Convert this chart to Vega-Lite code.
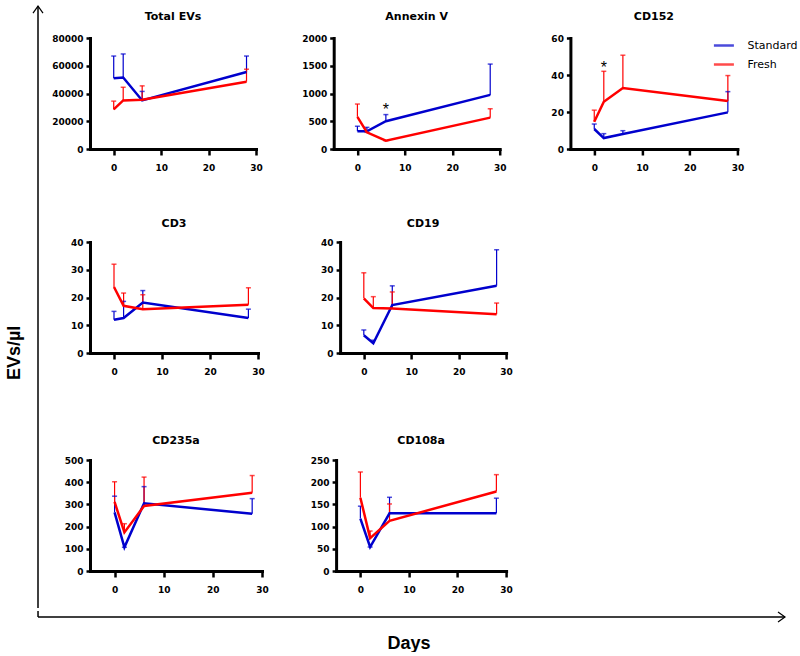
{
  "$schema": "https://vega.github.io/schema/vega-lite/v6.json",
  "padding": {"left": 5, "top": 3, "right": 0, "bottom": 0},
  "title": {"text": "EVs/µl", "orient": "left", "anchor": "middle", "font": "Liberation Sans", "fontSize": 18, "fontWeight": "bold", "color": "black", "offset": 7, "dx": -25},
  "datasets": {
    "ev": [
      {"panel": "Total EVs", "group": "Standard", "day": 0, "mean": 51000, "upper": 67000},
      {"panel": "Total EVs", "group": "Standard", "day": 2, "mean": 51500, "upper": 68500},
      {"panel": "Total EVs", "group": "Standard", "day": 6, "mean": 35000, "upper": 41500},
      {"panel": "Total EVs", "group": "Standard", "day": 28, "mean": 55500, "upper": 67000},
      {"panel": "Annexin V", "group": "Standard", "day": 0, "mean": 320, "upper": 410},
      {"panel": "Annexin V", "group": "Standard", "day": 2, "mean": 320, "upper": 390},
      {"panel": "Annexin V", "group": "Standard", "day": 6, "mean": 500, "upper": 620},
      {"panel": "Annexin V", "group": "Standard", "day": 28, "mean": 975, "upper": 1530},
      {"panel": "CD152", "group": "Standard", "day": 0, "mean": 10.8, "upper": 13.5},
      {"panel": "CD152", "group": "Standard", "day": 2, "mean": 5.9, "upper": 8.3},
      {"panel": "CD152", "group": "Standard", "day": 6, "mean": 8.1, "upper": 9.9},
      {"panel": "CD152", "group": "Standard", "day": 28, "mean": 19.8, "upper": 31},
      {"panel": "CD3", "group": "Standard", "day": 0, "mean": 12.0, "upper": 15.0},
      {"panel": "CD3", "group": "Standard", "day": 2, "mean": 12.6, "upper": 18.6},
      {"panel": "CD3", "group": "Standard", "day": 6, "mean": 18.2, "upper": 22.5},
      {"panel": "CD3", "group": "Standard", "day": 28, "mean": 12.6, "upper": 15.8},
      {"panel": "CD19", "group": "Standard", "day": 0, "mean": 6.4, "upper": 8.3},
      {"panel": "CD19", "group": "Standard", "day": 2, "mean": 3.5, "upper": 4.6},
      {"panel": "CD19", "group": "Standard", "day": 6, "mean": 17.3, "upper": 24.2},
      {"panel": "CD19", "group": "Standard", "day": 28, "mean": 24.2, "upper": 37.2},
      {"panel": "CD235a", "group": "Standard", "day": 0, "mean": 264, "upper": 337},
      {"panel": "CD235a", "group": "Standard", "day": 2, "mean": 107, "upper": 107},
      {"panel": "CD235a", "group": "Standard", "day": 6, "mean": 305, "upper": 380},
      {"panel": "CD235a", "group": "Standard", "day": 28, "mean": 258, "upper": 326},
      {"panel": "CD108a", "group": "Standard", "day": 0, "mean": 118, "upper": 146},
      {"panel": "CD108a", "group": "Standard", "day": 2, "mean": 54, "upper": 54},
      {"panel": "CD108a", "group": "Standard", "day": 6, "mean": 130, "upper": 166},
      {"panel": "CD108a", "group": "Standard", "day": 28, "mean": 130, "upper": 164},
      {"panel": "Total EVs", "group": "Fresh", "day": 0, "mean": 28500, "upper": 34500},
      {"panel": "Total EVs", "group": "Fresh", "day": 2, "mean": 35000, "upper": 44500},
      {"panel": "Total EVs", "group": "Fresh", "day": 6, "mean": 35500, "upper": 45500},
      {"panel": "Total EVs", "group": "Fresh", "day": 28, "mean": 48500, "upper": 57500},
      {"panel": "Annexin V", "group": "Fresh", "day": 0, "mean": 580, "upper": 810},
      {"panel": "Annexin V", "group": "Fresh", "day": 2, "mean": 300, "upper": 300},
      {"panel": "Annexin V", "group": "Fresh", "day": 6, "mean": 150, "upper": 150},
      {"panel": "Annexin V", "group": "Fresh", "day": 28, "mean": 565, "upper": 725},
      {"panel": "CD152", "group": "Fresh", "day": 0, "mean": 14.7, "upper": 21},
      {"panel": "CD152", "group": "Fresh", "day": 2, "mean": 25.5, "upper": 42},
      {"panel": "CD152", "group": "Fresh", "day": 6, "mean": 33, "upper": 50.7},
      {"panel": "CD152", "group": "Fresh", "day": 28, "mean": 25.9, "upper": 39.7},
      {"panel": "CD3", "group": "Fresh", "day": 0, "mean": 23.8, "upper": 32},
      {"panel": "CD3", "group": "Fresh", "day": 2, "mean": 17.0, "upper": 21.6},
      {"panel": "CD3", "group": "Fresh", "day": 6, "mean": 15.8, "upper": 21.0},
      {"panel": "CD3", "group": "Fresh", "day": 28, "mean": 17.4, "upper": 23.5},
      {"panel": "CD19", "group": "Fresh", "day": 0, "mean": 19.7, "upper": 28.9},
      {"panel": "CD19", "group": "Fresh", "day": 2, "mean": 16.2, "upper": 20.3},
      {"panel": "CD19", "group": "Fresh", "day": 6, "mean": 16.0, "upper": 22.0},
      {"panel": "CD19", "group": "Fresh", "day": 28, "mean": 14.0, "upper": 18.0},
      {"panel": "CD235a", "group": "Fresh", "day": 0, "mean": 311, "upper": 402},
      {"panel": "CD235a", "group": "Fresh", "day": 2, "mean": 174, "upper": 213},
      {"panel": "CD235a", "group": "Fresh", "day": 6, "mean": 293, "upper": 423},
      {"panel": "CD235a", "group": "Fresh", "day": 28, "mean": 352, "upper": 430},
      {"panel": "CD108a", "group": "Fresh", "day": 0, "mean": 165, "upper": 223},
      {"panel": "CD108a", "group": "Fresh", "day": 2, "mean": 74, "upper": 90},
      {"panel": "CD108a", "group": "Fresh", "day": 6, "mean": 113, "upper": 151},
      {"panel": "CD108a", "group": "Fresh", "day": 28, "mean": 179, "upper": 217}
    ]
  },
  "spacing": 0,
  "resolve": {"scale": {"color": "independent"}, "legend": {"color": "independent"}},
  "vconcat": [
    {
      "spacing": 4,
      "resolve": {"scale": {"color": "independent"}, "legend": {"color": "independent"}},
      "hconcat": [
        {
          "width": 12,
          "height": 570,
          "data": {"values": [{"x": 0.5, "y0": 0, "y1": 1.056}]},
          "layer": [
            {
              "mark": {"type": "rule", "color": "black", "strokeWidth": 1.5},
              "encoding": {
                "x": {"field": "x", "type": "quantitative", "scale": {"domain": [0, 1]}, "axis": null},
                "y": {"field": "y0", "type": "quantitative", "scale": {"domain": [0, 1], "nice": false}, "axis": null},
                "y2": {"field": "y1"}
              }
            },
            {
              "mark": {"type": "point", "shape": "M-1,1.4L0,0L1,1.4", "filled": false, "color": "black", "strokeWidth": 1.2, "size": 100, "opacity": 1},
              "encoding": {
                "x": {"field": "x", "type": "quantitative", "axis": null},
                "y": {"field": "y1", "type": "quantitative", "axis": null}
              }
            }
          ]
        },
        {
          "spacing": 46,
          "resolve": {"scale": {"color": "independent"}, "legend": {"color": "independent"}},
          "vconcat": [
            {
              "spacing": 37.7,
              "resolve": {"scale": {"color": "independent"}, "legend": {"color": "independent"}},
              "hconcat": [
                {
                  "width": 166, "height": 111,
                  "title": {"text": "Total EVs", "offset": 12},
                  "data": {"name": "ev"},
                  "encoding": {"x": {"field": "day", "type": "quantitative", "title": null, "scale": {"domain": [-5, 30], "nice": false, "zero": false}, "axis": {"values": [0, 10, 20, 30]}}},
                  "layer": [
                    {"transform": [{"filter": "datum.panel === 'Total EVs'"}], "mark": {"type": "rule", "strokeWidth": 1.2}, "encoding": {"y": {"field": "mean", "type": "quantitative", "title": null, "scale": {"domain": [0, 80000], "nice": false}, "axis": {"values": [0, 20000, 40000, 60000, 80000], "format": "d", "minExtent": 40, "labelOverlap": false, "tickCount": 5}}, "y2": {"field": "upper"}, "color": {"field": "group", "type": "nominal", "scale": {"domain": ["Standard", "Fresh"], "range": ["#0000cd", "#ff0000"]}, "legend": null}}},
                    {"transform": [{"filter": "datum.panel === 'Total EVs'"}], "mark": {"type": "tick", "orient": "horizontal", "size": 5, "thickness": 1.5}, "encoding": {"y": {"field": "upper", "type": "quantitative", "title": null, "axis": {"values": [0, 20000, 40000, 60000, 80000], "format": "d", "minExtent": 40, "labelOverlap": false, "tickCount": 5}}, "color": {"field": "group", "type": "nominal", "scale": {"domain": ["Standard", "Fresh"], "range": ["#0000cd", "#ff0000"]}, "legend": null}}},
                    {"transform": [{"filter": "datum.panel === 'Total EVs'"}], "mark": {"type": "line", "strokeWidth": 2.5}, "encoding": {"y": {"field": "mean", "type": "quantitative", "title": null, "axis": {"values": [0, 20000, 40000, 60000, 80000], "format": "d", "minExtent": 40, "labelOverlap": false, "tickCount": 5}}, "color": {"field": "group", "type": "nominal", "scale": {"domain": ["Standard", "Fresh"], "range": ["#0000cd", "#ff0000"]}, "legend": null}}}
                  ]
                },
                {
                  "width": 166, "height": 111,
                  "title": {"text": "Annexin V", "offset": 12},
                  "data": {"name": "ev"},
                  "encoding": {"x": {"field": "day", "type": "quantitative", "title": null, "scale": {"domain": [-5, 30], "nice": false, "zero": false}, "axis": {"values": [0, 10, 20, 30]}}},
                  "layer": [
                    {"transform": [{"filter": "datum.panel === 'Annexin V'"}], "mark": {"type": "rule", "strokeWidth": 1.2}, "encoding": {"y": {"field": "mean", "type": "quantitative", "title": null, "scale": {"domain": [0, 2000], "nice": false}, "axis": {"values": [0, 500, 1000, 1500, 2000], "format": "d", "minExtent": 33, "labelOverlap": false, "tickCount": 5}}, "y2": {"field": "upper"}, "color": {"field": "group", "type": "nominal", "scale": {"domain": ["Standard", "Fresh"], "range": ["#0000cd", "#ff0000"]}, "legend": null}}},
                    {"transform": [{"filter": "datum.panel === 'Annexin V'"}], "mark": {"type": "tick", "orient": "horizontal", "size": 5, "thickness": 1.5}, "encoding": {"y": {"field": "upper", "type": "quantitative", "title": null, "axis": {"values": [0, 500, 1000, 1500, 2000], "format": "d", "minExtent": 33, "labelOverlap": false, "tickCount": 5}}, "color": {"field": "group", "type": "nominal", "scale": {"domain": ["Standard", "Fresh"], "range": ["#0000cd", "#ff0000"]}, "legend": null}}},
                    {"transform": [{"filter": "datum.panel === 'Annexin V'"}], "mark": {"type": "line", "strokeWidth": 2.5}, "encoding": {"y": {"field": "mean", "type": "quantitative", "title": null, "axis": {"values": [0, 500, 1000, 1500, 2000], "format": "d", "minExtent": 33, "labelOverlap": false, "tickCount": 5}}, "color": {"field": "group", "type": "nominal", "scale": {"domain": ["Standard", "Fresh"], "range": ["#0000cd", "#ff0000"]}, "legend": null}}},
                    {"data": {"values": [{"day": 6, "y": 780}]}, "mark": {"type": "text", "text": "*", "fontSize": 16, "font": "Liberation Sans", "color": "black", "dy": 4}, "encoding": {"y": {"field": "y", "type": "quantitative", "title": null, "axis": {"values": [0, 500, 1000, 1500, 2000], "format": "d", "minExtent": 33, "labelOverlap": false, "tickCount": 5}}}}
                  ]
                },
                {
                  "width": 167, "height": 111,
                  "title": {"text": "CD152", "offset": 12},
                  "data": {"name": "ev"},
                  "encoding": {"x": {"field": "day", "type": "quantitative", "title": null, "scale": {"domain": [-5, 30], "nice": false, "zero": false}, "axis": {"values": [0, 10, 20, 30]}}},
                  "layer": [
                    {"transform": [{"filter": "datum.panel === 'CD152'"}], "mark": {"type": "rule", "strokeWidth": 1.2}, "encoding": {"y": {"field": "mean", "type": "quantitative", "title": null, "scale": {"domain": [0, 60], "nice": false}, "axis": {"values": [0, 20, 40, 60], "format": "d", "minExtent": 26, "labelOverlap": false, "tickCount": 4}}, "y2": {"field": "upper"}, "color": {"field": "group", "type": "nominal", "scale": {"domain": ["Standard", "Fresh"], "range": ["#0000cd", "#ff0000"]}, "legend": {"orient": "none", "legendX": 142, "legendY": -4, "title": null, "symbolType": "stroke", "symbolSize": 400, "symbolStrokeWidth": 2.5, "labelFont": "DejaVu Sans", "labelFontSize": 11, "labelColor": "black", "labelOffset": 12}}}},
                    {"transform": [{"filter": "datum.panel === 'CD152'"}], "mark": {"type": "tick", "orient": "horizontal", "size": 5, "thickness": 1.5}, "encoding": {"y": {"field": "upper", "type": "quantitative", "title": null, "axis": {"values": [0, 20, 40, 60], "format": "d", "minExtent": 26, "labelOverlap": false, "tickCount": 4}}, "color": {"field": "group", "type": "nominal", "scale": {"domain": ["Standard", "Fresh"], "range": ["#0000cd", "#ff0000"]}, "legend": {"orient": "none", "legendX": 142, "legendY": -4, "title": null, "symbolType": "stroke", "symbolSize": 400, "symbolStrokeWidth": 2.5, "labelFont": "DejaVu Sans", "labelFontSize": 11, "labelColor": "black", "labelOffset": 12}}}},
                    {"transform": [{"filter": "datum.panel === 'CD152'"}], "mark": {"type": "line", "strokeWidth": 2.5}, "encoding": {"y": {"field": "mean", "type": "quantitative", "title": null, "axis": {"values": [0, 20, 40, 60], "format": "d", "minExtent": 26, "labelOverlap": false, "tickCount": 4}}, "color": {"field": "group", "type": "nominal", "scale": {"domain": ["Standard", "Fresh"], "range": ["#0000cd", "#ff0000"]}, "legend": {"orient": "none", "legendX": 142, "legendY": -4, "title": null, "symbolType": "stroke", "symbolSize": 400, "symbolStrokeWidth": 2.5, "labelFont": "DejaVu Sans", "labelFontSize": 11, "labelColor": "black", "labelOffset": 12}}}},
                    {"data": {"values": [{"day": 2, "y": 46}]}, "mark": {"type": "text", "text": "*", "fontSize": 16, "font": "Liberation Sans", "color": "black", "dy": 4}, "encoding": {"y": {"field": "y", "type": "quantitative", "title": null, "axis": {"values": [0, 20, 40, 60], "format": "d", "minExtent": 26, "labelOverlap": false, "tickCount": 4}}}}
                  ]
                }
              ]
            },
            {
              "spacing": 41.1,
              "resolve": {"scale": {"color": "independent"}, "legend": {"color": "independent"}},
              "hconcat": [
                {
                  "width": 168, "height": 111,
                  "title": {"text": "CD3", "offset": 9},
                  "data": {"name": "ev"},
                  "encoding": {"x": {"field": "day", "type": "quantitative", "title": null, "scale": {"domain": [-5, 30], "nice": false, "zero": false}, "axis": {"values": [0, 10, 20, 30]}}},
                  "layer": [
                    {"transform": [{"filter": "datum.panel === 'CD3'"}], "mark": {"type": "rule", "strokeWidth": 1.2}, "encoding": {"y": {"field": "mean", "type": "quantitative", "title": null, "scale": {"domain": [0, 40], "nice": false}, "axis": {"values": [0, 10, 20, 30, 40], "format": "d", "minExtent": 40, "labelOverlap": false, "tickCount": 5}}, "y2": {"field": "upper"}, "color": {"field": "group", "type": "nominal", "scale": {"domain": ["Standard", "Fresh"], "range": ["#0000cd", "#ff0000"]}, "legend": null}}},
                    {"transform": [{"filter": "datum.panel === 'CD3'"}], "mark": {"type": "tick", "orient": "horizontal", "size": 5, "thickness": 1.5}, "encoding": {"y": {"field": "upper", "type": "quantitative", "title": null, "axis": {"values": [0, 10, 20, 30, 40], "format": "d", "minExtent": 40, "labelOverlap": false, "tickCount": 5}}, "color": {"field": "group", "type": "nominal", "scale": {"domain": ["Standard", "Fresh"], "range": ["#0000cd", "#ff0000"]}, "legend": null}}},
                    {"transform": [{"filter": "datum.panel === 'CD3'"}], "mark": {"type": "line", "strokeWidth": 2.5}, "encoding": {"y": {"field": "mean", "type": "quantitative", "title": null, "axis": {"values": [0, 10, 20, 30, 40], "format": "d", "minExtent": 40, "labelOverlap": false, "tickCount": 5}}, "color": {"field": "group", "type": "nominal", "scale": {"domain": ["Standard", "Fresh"], "range": ["#0000cd", "#ff0000"]}, "legend": null}}}
                  ]
                },
                {
                  "width": 166, "height": 111,
                  "title": {"text": "CD19", "offset": 9},
                  "data": {"name": "ev"},
                  "encoding": {"x": {"field": "day", "type": "quantitative", "title": null, "scale": {"domain": [-5, 30], "nice": false, "zero": false}, "axis": {"values": [0, 10, 20, 30]}}},
                  "layer": [
                    {"transform": [{"filter": "datum.panel === 'CD19'"}], "mark": {"type": "rule", "strokeWidth": 1.2}, "encoding": {"y": {"field": "mean", "type": "quantitative", "title": null, "scale": {"domain": [0, 40], "nice": false}, "axis": {"values": [0, 10, 20, 30, 40], "format": "d", "minExtent": 33.6, "labelOverlap": false, "tickCount": 5}}, "y2": {"field": "upper"}, "color": {"field": "group", "type": "nominal", "scale": {"domain": ["Standard", "Fresh"], "range": ["#0000cd", "#ff0000"]}, "legend": null}}},
                    {"transform": [{"filter": "datum.panel === 'CD19'"}], "mark": {"type": "tick", "orient": "horizontal", "size": 5, "thickness": 1.5}, "encoding": {"y": {"field": "upper", "type": "quantitative", "title": null, "axis": {"values": [0, 10, 20, 30, 40], "format": "d", "minExtent": 33.6, "labelOverlap": false, "tickCount": 5}}, "color": {"field": "group", "type": "nominal", "scale": {"domain": ["Standard", "Fresh"], "range": ["#0000cd", "#ff0000"]}, "legend": null}}},
                    {"transform": [{"filter": "datum.panel === 'CD19'"}], "mark": {"type": "line", "strokeWidth": 2.5}, "encoding": {"y": {"field": "mean", "type": "quantitative", "title": null, "axis": {"values": [0, 10, 20, 30, 40], "format": "d", "minExtent": 33.6, "labelOverlap": false, "tickCount": 5}}, "color": {"field": "group", "type": "nominal", "scale": {"domain": ["Standard", "Fresh"], "range": ["#0000cd", "#ff0000"]}, "legend": null}}}
                  ]
                }
              ]
            },
            {
              "spacing": 39.1,
              "title": {"text": " ", "fontSize": 1, "offset": 12},
              "resolve": {"scale": {"color": "independent"}, "legend": {"color": "independent"}},
              "hconcat": [
                {
                  "width": 172, "height": 111,
                  "title": {"text": "CD235a", "offset": 10},
                  "data": {"name": "ev"},
                  "encoding": {"x": {"field": "day", "type": "quantitative", "title": null, "scale": {"domain": [-5, 30], "nice": false, "zero": false}, "axis": {"values": [0, 10, 20, 30]}}},
                  "layer": [
                    {"transform": [{"filter": "datum.panel === 'CD235a'"}], "mark": {"type": "rule", "strokeWidth": 1.2}, "encoding": {"y": {"field": "mean", "type": "quantitative", "title": null, "scale": {"domain": [0, 500], "nice": false}, "axis": {"values": [0, 100, 200, 300, 400, 500], "format": "d", "minExtent": 40, "labelOverlap": false, "tickCount": 6}}, "y2": {"field": "upper"}, "color": {"field": "group", "type": "nominal", "scale": {"domain": ["Standard", "Fresh"], "range": ["#0000cd", "#ff0000"]}, "legend": null}}},
                    {"transform": [{"filter": "datum.panel === 'CD235a'"}], "mark": {"type": "tick", "orient": "horizontal", "size": 5, "thickness": 1.5}, "encoding": {"y": {"field": "upper", "type": "quantitative", "title": null, "axis": {"values": [0, 100, 200, 300, 400, 500], "format": "d", "minExtent": 40, "labelOverlap": false, "tickCount": 6}}, "color": {"field": "group", "type": "nominal", "scale": {"domain": ["Standard", "Fresh"], "range": ["#0000cd", "#ff0000"]}, "legend": null}}},
                    {"transform": [{"filter": "datum.panel === 'CD235a'"}], "mark": {"type": "line", "strokeWidth": 2.5}, "encoding": {"y": {"field": "mean", "type": "quantitative", "title": null, "axis": {"values": [0, 100, 200, 300, 400, 500], "format": "d", "minExtent": 40, "labelOverlap": false, "tickCount": 6}}, "color": {"field": "group", "type": "nominal", "scale": {"domain": ["Standard", "Fresh"], "range": ["#0000cd", "#ff0000"]}, "legend": null}}}
                  ]
                },
                {
                  "width": 170, "height": 111,
                  "title": {"text": "CD108a", "offset": 10},
                  "data": {"name": "ev"},
                  "encoding": {"x": {"field": "day", "type": "quantitative", "title": null, "scale": {"domain": [-5, 30], "nice": false, "zero": false}, "axis": {"values": [0, 10, 20, 30]}}},
                  "layer": [
                    {"transform": [{"filter": "datum.panel === 'CD108a'"}], "mark": {"type": "rule", "strokeWidth": 1.2}, "encoding": {"y": {"field": "mean", "type": "quantitative", "title": null, "scale": {"domain": [0, 250], "nice": false}, "axis": {"values": [0, 50, 100, 150, 200, 250], "format": "d", "minExtent": 27.6, "labelOverlap": false, "tickCount": 6}}, "y2": {"field": "upper"}, "color": {"field": "group", "type": "nominal", "scale": {"domain": ["Standard", "Fresh"], "range": ["#0000cd", "#ff0000"]}, "legend": null}}},
                    {"transform": [{"filter": "datum.panel === 'CD108a'"}], "mark": {"type": "tick", "orient": "horizontal", "size": 5, "thickness": 1.5}, "encoding": {"y": {"field": "upper", "type": "quantitative", "title": null, "axis": {"values": [0, 50, 100, 150, 200, 250], "format": "d", "minExtent": 27.6, "labelOverlap": false, "tickCount": 6}}, "color": {"field": "group", "type": "nominal", "scale": {"domain": ["Standard", "Fresh"], "range": ["#0000cd", "#ff0000"]}, "legend": null}}},
                    {"transform": [{"filter": "datum.panel === 'CD108a'"}], "mark": {"type": "line", "strokeWidth": 2.5}, "encoding": {"y": {"field": "mean", "type": "quantitative", "title": null, "axis": {"values": [0, 50, 100, 150, 200, 250], "format": "d", "minExtent": 27.6, "labelOverlap": false, "tickCount": 6}}, "color": {"field": "group", "type": "nominal", "scale": {"domain": ["Standard", "Fresh"], "range": ["#0000cd", "#ff0000"]}, "legend": null}}}
                  ]
                }
              ]
            }
          ]
        }
      ]
    },
    {
      "width": 753,
      "height": 6,
      "data": {"values": [{"x0": 0.8, "x1": 100, "y0": 0, "y1": 1}]},
      "layer": [
        {
          "mark": {"type": "rule", "color": "black", "strokeWidth": 1.5},
          "encoding": {
            "x": {"field": "x0", "type": "quantitative", "title": "Days", "scale": {"domain": [0, 100], "nice": false}, "axis": {"domain": false, "ticks": false, "labels": false, "minExtent": 0, "titleFont": "Liberation Sans", "titleFontSize": 18, "titleFontWeight": "bold", "titleColor": "black", "titlePadding": 17}},
            "x2": {"field": "x1"},
            "y": {"field": "y0", "type": "quantitative", "scale": {"domain": [0, 1], "nice": false}, "axis": null}
          }
        },
        {
          "mark": {"type": "rule", "color": "black", "strokeWidth": 1.5},
          "encoding": {
            "x": {"field": "x0", "type": "quantitative", "title": "Days", "axis": {"domain": false, "ticks": false, "labels": false, "minExtent": 0, "titleFont": "Liberation Sans", "titleFontSize": 18, "titleFontWeight": "bold", "titleColor": "black", "titlePadding": 17}},
            "y": {"field": "y0", "type": "quantitative", "axis": null},
            "y2": {"field": "y1"}
          }
        },
        {
          "mark": {"type": "point", "shape": "M-1.4,-1L0,0L-1.4,1", "filled": false, "color": "black", "strokeWidth": 1.2, "size": 100, "opacity": 1},
          "encoding": {
            "x": {"field": "x1", "type": "quantitative", "title": "Days", "axis": {"domain": false, "ticks": false, "labels": false, "minExtent": 0, "titleFont": "Liberation Sans", "titleFontSize": 18, "titleFontWeight": "bold", "titleColor": "black", "titlePadding": 17}},
            "y": {"field": "y0", "type": "quantitative", "axis": null}
          }
        }
      ]
    }
  ],
  "config": {
    "view": {"stroke": null},
    "font": "DejaVu Sans",
    "title": {"font": "DejaVu Sans", "fontSize": 11, "fontWeight": "bold", "color": "black", "anchor": "middle"},
    "axis": {"domainColor": "black", "domainWidth": 3, "domainCap": "square", "tickColor": "black", "tickWidth": 2.5, "labelFont": "DejaVu Sans", "labelFontWeight": "bold", "labelFontSize": 9, "labelColor": "black", "labelOverlap": false, "grid": false},
    "axisX": {"tickSize": 6, "labelPadding": 8, "labelAngle": 0, "labelFlush": false},
    "axisY": {"tickSize": 4, "labelPadding": 3}
  }
}
